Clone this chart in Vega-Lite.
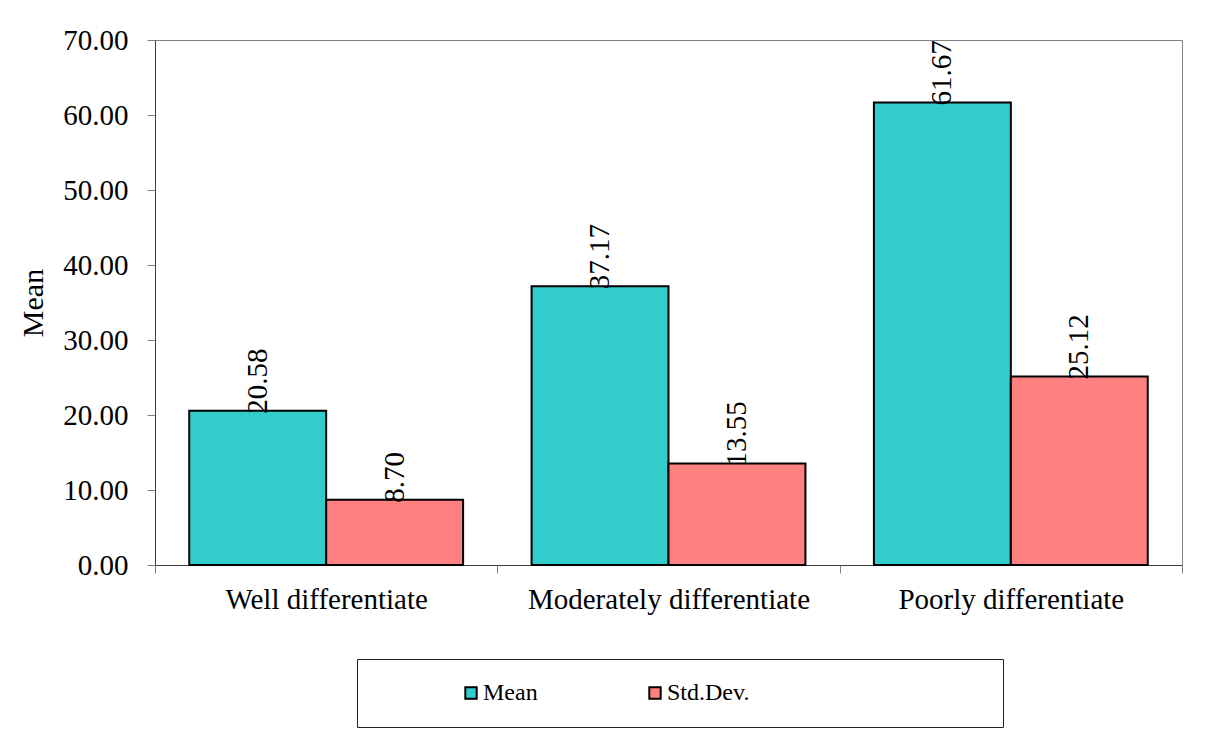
{
  "$schema": "https://vega.github.io/schema/vega-lite/v6.json",
  "autosize": {"type": "none"},
  "padding": {"left": 155, "top": 40, "right": 34, "bottom": 179},
  "width": 1027,
  "height": 525,
  "background": "white",
  "data": {
    "values": [
      {"grade": "Well differentiate", "stat": "Mean", "value": 20.58},
      {"grade": "Well differentiate", "stat": "Std.Dev.", "value": 8.70},
      {"grade": "Moderately differentiate", "stat": "Mean", "value": 37.17},
      {"grade": "Moderately differentiate", "stat": "Std.Dev.", "value": 13.55},
      {"grade": "Poorly differentiate", "stat": "Mean", "value": 61.67},
      {"grade": "Poorly differentiate", "stat": "Std.Dev.", "value": 25.12}
    ]
  },
  "encoding": {
    "x": {
      "field": "grade",
      "type": "nominal",
      "sort": null,
      "title": null,
      "scale": {"paddingInner": 0, "paddingOuter": 0},
      "axis": {
        "labelAngle": 0,
        "labelFont": "Liberation Serif",
        "labelFontSize": 29,
        "labelColor": "black",
        "labelPadding": 12,
        "tickBand": "extent",
        "tickSize": 8,
        "tickColor": "#808080",
        "domainColor": "#404040",
        "labelLimit": 400
      }
    },
    "xOffset": {
      "field": "stat",
      "type": "nominal",
      "sort": ["Mean", "Std.Dev."],
      "scale": {"paddingInner": 0, "paddingOuter": 0.25}
    },
    "y": {
      "field": "value",
      "type": "quantitative",
      "title": "Mean",
      "scale": {"domain": [0, 70], "nice": false},
      "axis": {
        "values": [0, 10, 20, 30, 40, 50, 60, 70],
        "format": ".2f",
        "grid": false,
        "labelFont": "Liberation Serif",
        "labelFontSize": 29,
        "labelColor": "black",
        "labelPadding": 19,
        "tickSize": 8,
        "tickColor": "#808080",
        "domainColor": "#404040",
        "titleFont": "Liberation Serif",
        "titleFontSize": 30,
        "titleFontWeight": "normal",
        "titleColor": "black",
        "titlePadding": 14
      }
    }
  },
  "layer": [
    {
      "mark": {"type": "bar", "stroke": "black", "strokeWidth": 2},
      "encoding": {
        "color": {
          "field": "stat",
          "type": "nominal",
          "sort": ["Mean", "Std.Dev."],
          "scale": {"domain": ["Mean", "Std.Dev."], "range": ["#33CCCC", "#FF8080"]},
          "legend": {
            "title": "\u00a0",
            "titleOrient": "right",
            "titlePadding": 232,
            "titleFontSize": 24,
            "orient": "none",
            "legendX": 202,
            "legendY": 619,
            "direction": "horizontal",
            "strokeColor": "#202020",
            "fillColor": "white",
            "padding": 22,
            "labelFont": "Liberation Serif",
            "labelFontSize": 24,
            "labelColor": "black",
            "labelOffset": 0,
            "symbolType": "square",
            "symbolSize": 130,
            "symbolStrokeColor": "black",
            "symbolStrokeWidth": 2,
            "symbolOffset": 80,
            "columnPadding": 25
          }
        }
      }
    },
    {
      "mark": {
        "type": "text",
        "angle": 270,
        "align": "left",
        "baseline": "middle",
        "dx": -3,
        "font": "Liberation Serif",
        "fontSize": 29,
        "color": "black"
      },
      "encoding": {
        "text": {"field": "value", "type": "quantitative", "format": ".2f"}
      }
    }
  ],
  "config": {
    "view": {"stroke": "#808080", "strokeWidth": 1}
  }
}
